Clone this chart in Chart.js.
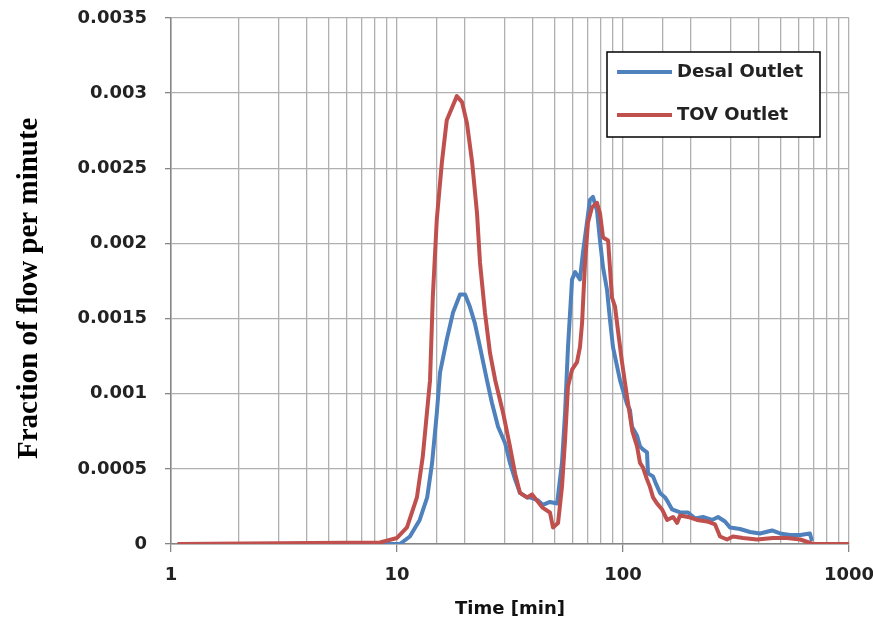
<!DOCTYPE html>
<html>
<head>
<meta charset="utf-8">
<script src="https://cdn.jsdelivr.net/npm/chart.js"></script>
<style>
  html, body { margin: 0; padding: 0; background: #fff; }
  #wrap { width: 873px; height: 623px; }
</style>
</head>
<body>
<div id="wrap"><canvas id="chart" width="873" height="623"></canvas></div>
<script>
// valores
const desalTime = [1.07, 10.0, 10.3, 11.4, 12.6, 13.6, 14.3, 15.0, 15.5, 16.6, 17.7, 19.0, 20.0, 21.0, 22.1, 23.3,
  25.0, 26.3, 28.0, 30.1, 31.6, 33.3, 35.0, 37.6, 38.8, 42.1, 44.2, 47.5, 51.1, 53.7, 55.4, 57.1, 59.5, 61.4,
  64.5, 66.5, 69.3, 71.4, 73.6, 76.7, 79.1, 81.6, 85.0, 87.6, 90.3, 97.0, 104.2, 107.4, 109.6, 115.4, 118.9,
  122.5, 127.7, 129.0, 135.8, 140.0, 145.8, 153.5, 158.0, 164.9, 178.8, 194.0, 208.3, 226.0, 247.8, 263.3,
  282.8, 297.4, 329.4, 364.8, 403.8, 456.3, 495.3, 548.5, 609.0, 671.6, 685.5];
const desalValue = [0, 0, 0, 0.00005, 0.00016, 0.00031, 0.00054, 0.00087, 0.00114, 0.00136, 0.00154, 0.00166,
  0.00166, 0.00158, 0.00147, 0.00131, 0.00109, 0.00094, 0.00078, 0.00067, 0.00054, 0.00043, 0.00034, 0.00031,
  0.00031, 0.00029, 0.00026, 0.00028, 0.00027, 0.00054, 0.00087, 0.00131, 0.00176, 0.00181, 0.00176, 0.00194,
  0.00214, 0.00229, 0.00231, 0.00222, 0.00202, 0.00184, 0.00169, 0.00149, 0.00131, 0.00109, 0.00093, 0.00089,
  0.00078, 0.00072, 0.00065, 0.00063, 0.00061, 0.00047, 0.00045, 0.00040, 0.00034, 0.00031, 0.00028, 0.00023,
  0.00021, 0.00021, 0.00017, 0.00018, 0.00016, 0.00018, 0.00015, 0.00011, 0.00010, 0.00008, 0.00007, 0.00009,
  0.00007, 0.00006, 0.00006, 0.00007, 0.00002];

const tovTime = [1.07, 8.41, 10.0, 11.07, 12.25, 13.0, 14.0, 14.4, 15.0, 15.8, 16.6, 18.4, 19.4, 20.4, 21.5,
  22.6, 23.3, 24.5, 25.8, 27.2, 29.5, 31.6, 33.3, 35.0, 37.6, 39.6, 41.6, 44.2, 47.5, 49.0, 51.6, 53.7, 55.4,
  57.1, 59.5, 62.6, 64.5, 65.9, 67.9, 70.0, 72.9, 76.7, 79.1, 81.6, 85.9, 89.4, 92.2, 95.0, 99.0, 104.2, 110.0,
  115.4, 118.9, 122.5, 127.7, 131.6, 135.8, 141.3, 148.9, 156.7, 166.5, 173.5, 178.8, 194.0, 212.6, 235.5,
  255.5, 268.8, 288.6, 306.7, 339.7, 391.8, 461.0, 532.0, 609.0, 693.5, 1000];
const tovValue = [0, 0.00001, 0.00004, 0.00011, 0.00031, 0.00058, 0.00109, 0.00164, 0.00216, 0.00254, 0.00282,
  0.00298, 0.00294, 0.00280, 0.00254, 0.00220, 0.00187, 0.00154, 0.00127, 0.00109, 0.00087, 0.00065, 0.00047,
  0.00034, 0.00031, 0.00033, 0.00029, 0.00024, 0.00021, 0.00011, 0.00014, 0.00038, 0.00069, 0.00105, 0.00116,
  0.00121, 0.00131, 0.00147, 0.00187, 0.00214, 0.00224, 0.00227, 0.00220, 0.00204, 0.00202, 0.00164, 0.00158,
  0.00142, 0.00121, 0.00098, 0.00075, 0.00065, 0.00054, 0.00051, 0.00043, 0.00038, 0.00031, 0.00027, 0.00023,
  0.00016, 0.00018, 0.00014, 0.00019, 0.00018, 0.00016, 0.00015, 0.00013, 0.00005, 0.00003, 0.00005, 0.00004,
  0.00003, 0.00004, 0.00004, 0.00003, 0, 0];

const xTickLabels = [1, 10, 100, 1000];
const seriesNames = ['Desal Outlet', 'TOV Outlet'];
const seriesColors = ['#4F81BD', '#C0504D'];

const toPoints = (ts, vs) => ts.map((t, i) => ({ x: t, y: vs[i] }));
const isPow10 = v => Math.abs(Math.log10(v) - Math.round(Math.log10(v))) < 1e-9;

// leyenda dibujada a mano dentro del area
const legendBox = {
  id: 'legendBox',
  afterDraw(chart) {
    const ctx = chart.ctx;
    ctx.save();
    ctx.fillStyle = '#fff';
    ctx.fillRect(607, 52, 213, 85);
    ctx.strokeStyle = '#000';
    ctx.lineWidth = 1.5;
    ctx.strokeRect(607, 52, 213, 85);
    const rows = [72, 115];
    rows.forEach((y, i) => {
      ctx.strokeStyle = seriesColors[i];
      ctx.lineWidth = 4;
      ctx.beginPath();
      ctx.moveTo(617, y);
      ctx.lineTo(672, y);
      ctx.stroke();
      ctx.fillStyle = '#222';
      ctx.font = 'bold 18px "DejaVu Sans"';
      ctx.textBaseline = 'middle';
      ctx.fillText(seriesNames[i], 677, y);
    });
    ctx.restore();
  }
};

const ctx = document.getElementById('chart').getContext('2d');
new Chart(ctx, {
  type: 'scatter',
  data: {
    datasets: [
      {
        label: seriesNames[0],
        data: toPoints(desalTime, desalValue),
        borderColor: seriesColors[0],
        backgroundColor: seriesColors[0],
        borderWidth: 4,
        showLine: true,
        pointRadius: 0,
        tension: 0,
        borderJoinStyle: 'round',
        order: 2
      },
      {
        label: seriesNames[1],
        data: toPoints(tovTime, tovValue),
        borderColor: seriesColors[1],
        backgroundColor: seriesColors[1],
        borderWidth: 4,
        showLine: true,
        pointRadius: 0,
        tension: 0,
        borderJoinStyle: 'round',
        order: 1
      }
    ]
  },
  options: {
    responsive: false,
    animation: false,
    layout: { padding: { left: 0, right: 24, top: 18, bottom: 0 } },
    plugins: {
      legend: { display: false },
      tooltip: { enabled: false }
    },
    scales: {
      x: {
        type: 'logarithmic',
        min: 1,
        max: 1000,
        afterFit: s => { s.height = 79; s.paddingLeft = 0; s.paddingRight = 0; },
        border: { display: true, color: '#868686', width: 1.5 },
        grid: {
          color: '#B0B0B0',
          lineWidth: 1.3,
          tickLength: 8,
          tickColor: c => (c.tick && isPow10(c.tick.value)) ? '#868686' : 'rgba(0,0,0,0)'
        },
        ticks: {
          autoSkip: false,
          maxRotation: 0,
          padding: 13,
          color: '#222',
          font: { family: 'DejaVu Sans', size: 18, weight: 'bold' },
          callback: v => (isPow10(v) && xTickLabels.includes(Math.round(v))) ? String(Math.round(v)) : ''
        },
        title: {
          display: true,
          text: 'Time [min]',
          color: '#111',
          font: { family: 'DejaVu Sans', size: 18, weight: 'bold' },
          padding: { top: 0, bottom: 3 }
        }
      },
      y: {
        min: 0,
        max: 0.0035,
        afterFit: s => { s.width = 171; s.paddingTop = 0; s.paddingBottom = 0; },
        border: { display: true, color: '#868686', width: 1.5 },
        grid: { color: '#B0B0B0', lineWidth: 1.3, tickLength: 6, tickColor: '#868686' },
        ticks: {
          stepSize: 0.0005,
          padding: 18,
          color: '#222',
          font: { family: 'DejaVu Sans', size: 18, weight: 'bold' },
          callback: v => String(parseFloat(v.toFixed(4)))
        },
        title: {
          display: true,
          text: 'Fraction of flow per minute\u00A0\u00A0',
          color: '#000',
          font: { family: 'Liberation Serif', size: 29, weight: 'bold' },
          padding: { top: 12, bottom: 0 }
        }
      }
    }
  },
  plugins: [legendBox]
});
</script>
</body>
</html>
